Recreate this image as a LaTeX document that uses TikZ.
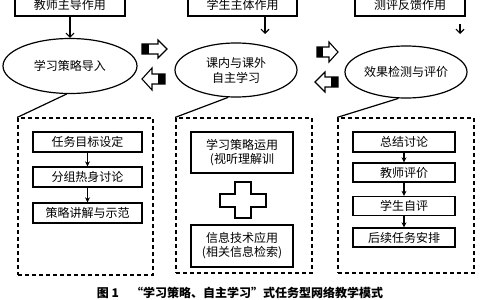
\documentclass[tikz,border=0pt]{standalone}
\usepackage{fontspec}
\setmainfont{Noto Sans CJK SC}
\usetikzlibrary{shapes.geometric,arrows.meta}
\tikzset{
  box/.style={draw,line width=1.3pt,rectangle,inner sep=0pt,font=\fontsize{12}{14}\selectfont,align=center},
  ell/.style={draw,line width=1.2pt,ellipse,inner sep=0pt,font=\fontsize{12}{15}\selectfont,align=center},
  dbox/.style={draw,line width=1.3pt,dash pattern=on 4pt off 3pt,rectangle,inner sep=0pt},
  downarr/.style={line width=1.1pt,-{Straight Barb[length=4pt,width=8pt]}},
  smallarr/.style={line width=1.3pt,-{Stealth[length=5pt,width=5pt]}},
  link/.style={line width=1.2pt},
  barrow/.style={draw,line width=1.1pt,fill=white},
}
\begin{document}
\begin{tikzpicture}[x=1pt,y=-1pt]
\useasboundingbox (0,0) rectangle (480,300);
\clip (0,0) rectangle (480,300);
% top boxes
\node[box,minimum width=110pt,minimum height=22pt] (T1) at (70,5) {教师主导作用};
\node[box,minimum width=109pt,minimum height=22pt] (T2) at (242.5,5) {学生主体作用};
\node[box,minimum width=110pt,minimum height=22pt] (T3) at (410,5) {测评反馈作用};
% ellipses
\node[ell,minimum width=134pt,minimum height=55pt] (L) at (70,66) {学习策略导入};
\node[ell,minimum width=122pt,minimum height=54pt] (M) at (236,70) {课内与课外\\自主学习};
\node[ell,minimum width=122pt,minimum height=52pt] (R) at (406,72) {效果检测与评价};
% down arrows
\coordinate (a2s) at (265,16);
\coordinate (a2e) at (265,34);
\coordinate (a3s) at (460,24);
\coordinate (a3e) at (460,34);
\draw[downarr] (T1.south) -- (L.north);
\draw[downarr] (a2s) -- (a2e);
\draw[downarr] (a3s) -- (a3e);
% block arrows pair 1
\draw[barrow] (142,44) -- (158,44) -- (158,40) -- (167,49) -- (158,58) -- (158,54) -- (142,54) -- cycle;
\fill (142,44) rectangle (149,54);
\draw[barrow] (165,74) -- (152,74) -- (152,68) -- (142,79) -- (152,90) -- (152,84) -- (165,84) -- cycle;
\fill (158,74) rectangle (165,84);
% block arrows pair 2
\draw[barrow] (317,47) -- (329,47) -- (329,42) -- (338,52) -- (329,62) -- (329,57) -- (317,57) -- cycle;
\fill (317,47) rectangle (323,57);
\draw[barrow] (338,77) -- (325,77) -- (325,72) -- (315,82) -- (325,92) -- (325,87) -- (338,87) -- cycle;
\fill (331,77) rectangle (338,87);
% dashed boxes
\node[dbox,minimum width=135pt,minimum height=157pt] (LD) at (85.5,196.5) {};
\node[dbox,minimum width=136pt,minimum height=155pt] (MD) at (244,195.5) {};
\node[dbox,minimum width=136pt,minimum height=155pt] (RD) at (406,195.5) {};
\draw[link] (L.-97) -- (LD.north west);
\draw[link] (M.-106) -- (MD.north west);
\draw[link] (R.-106) -- (RD.north west);
% left inner
\node[box,minimum width=109pt,minimum height=20pt] (L1) at (87.5,142) {任务目标设定};
\node[box,minimum width=109pt,minimum height=20pt] (L2) at (87.5,177) {分组热身讨论};
\node[box,minimum width=109pt,minimum height=20pt] (L3) at (87.5,213) {策略讲解与示范};
\draw[smallarr] (L1) -- (L2);
\draw[smallarr] (L2) -- (L3);
% middle inner
\node[box,minimum width=102pt,minimum height=41pt] (M1) at (242,152.5) {学习策略运用\\(视听理解训};
\node[box,minimum width=102pt,minimum height=42pt] (M2) at (242,246) {信息技术应用\\(相关信息检索)};
\draw[line width=1.2pt,fill=white] (235,182) -- (251,182) -- (251,194) -- (266,194) -- (266,207) -- (251,207) -- (251,218) -- (235,218) -- (235,207) -- (220,207) -- (220,194) -- (235,194) -- cycle;
% right inner
\node[box,minimum width=102pt,minimum height=20pt] (R1) at (404,142) {总结讨论};
\node[box,minimum width=102pt,minimum height=19pt] (R2) at (404,172.5) {教师评价};
\node[box,minimum width=102pt,minimum height=19pt] (R3) at (404,206) {学生自评};
\node[box,minimum width=102pt,minimum height=19pt] (R4) at (404,237.5) {后续任务安排};
\draw[smallarr] (R1) -- (R2);
\draw[smallarr] (R2) -- (R3);
\draw[smallarr] (R3) -- (R4);
% caption
\node[font=\fontsize{12}{14}\selectfont\bfseries] (cap) at (240,292.5) {图 1\quad “学习策略、自主学习”式任务型网络教学模式};
\end{tikzpicture}
\end{document}
